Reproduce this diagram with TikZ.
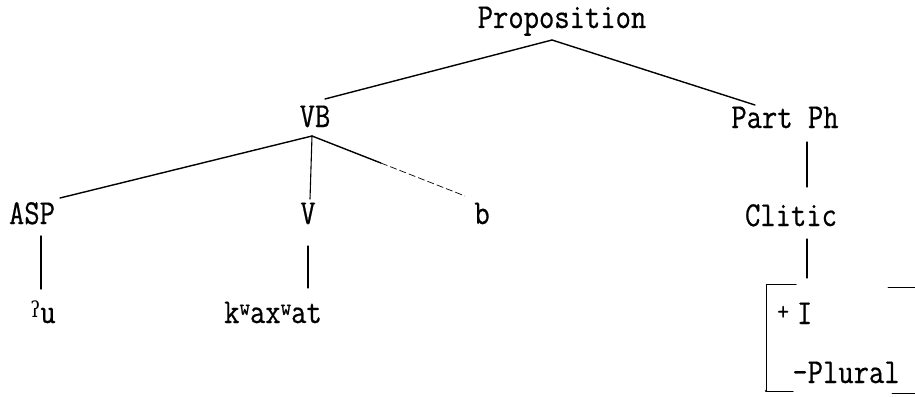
\documentclass[tikz,border=0pt]{standalone}
\usepackage{fontspec}
\newfontfamily\tw[FakeStretch=0.85,FakeBold=0.6]{Latin Modern Mono}
\newfontfamily\ipa[FakeStretch=0.85]{DejaVu Serif}
\usetikzlibrary{calc}
\begin{document}
\begin{tikzpicture}[x=1pt,y=-1pt,
  lab/.style={font=\tw\fontsize{35}{40}\selectfont, inner sep=0pt, anchor=base},
  edge/.style={line width=1.4pt, line cap=round},
  thinedge/.style={line width=1.1pt, line cap=round},
  brk/.style={line width=1pt, line cap=round}]
\useasboundingbox (0,0) rectangle (915,396);
% nodes
\node[lab] (prop) at (562,28) {Proposition};
\node[lab] (vb) at (315,127) {VB};
\node[lab] (pp) at (785,128) {Part Ph};
\node[lab] (asp) at (32,224) {ASP};
\node[lab] (v) at (308,224) {V};
\node[lab] (b) at (482,224) {b};
\node[lab] (clitic) at (791,226) {Clitic};
\node[lab] (gu) at (43,323) {\raisebox{6pt}{\ipa\fontsize{22}{22}\selectfont ʔ}u};
\node[lab] (kw) at (273,323) {k\raisebox{8pt}{\fontsize{24}{24}\selectfont w}ax\raisebox{8pt}{\fontsize{24}{24}\selectfont w}at};
\node[lab, anchor=base west] (pi) at (777,324) {\raisebox{4pt}{\fontsize{27}{27}\selectfont +}\hspace{8pt}I};
\node[lab] (plural) at (846,383) {-Plural};
% connector coordinates
\path (prop.base) ++(-10,12) coordinate (pj);
\path (vb.base) ++(10,-28) coordinate (vbt);
\path (pp.base) ++(-30,-23) coordinate (ppt);
\path (vb.base) ++(-3,9) coordinate (vbj);
\path (asp.base) ++(28,-26) coordinate (aspt);
\path (v.base) ++(2,-25) coordinate (vt);
\path (b.base) ++(-17,-28) coordinate (bt);
\path (asp.base) ++(9,12) coordinate (aspb);
\path (gu.base) ++(-2,-34) coordinate (gut);
\path (v.base) ++(0,22) coordinate (vb2);
\path (kw.base) ++(35,-35) coordinate (kwt);
\path (pp.base) ++(22,14) coordinate (ppb);
\path (clitic.base) ++(16,-39) coordinate (clt);
\path (clitic.base) ++(16,13) coordinate (clb);
\path (plural.base) ++(-39,-105) coordinate (brt);
\path (plural.base) ++(-80,-99) coordinate (bl1);
\path (plural.base) ++(-80,8) coordinate (bl2);
\path (plural.base) ++(-50,-99) coordinate (bl1e);
\path (plural.base) ++(-53,8) coordinate (bl2e);
\path (plural.base) ++(42,-96) coordinate (br1);
\path (plural.base) ++(69,-96) coordinate (br1e);
\path (plural.base) ++(46,10) coordinate (br2);
\path (plural.base) ++(69,10) coordinate (br2e);
% connectors
\draw[edge] (pj) -- (vbt);
\draw[edge] (pj) -- (ppt);
\draw[edge] (vbj) -- (aspt);
\draw[thinedge] (vbj) -- (vt);
\draw[edge] (vbj) -- ($(vbj)!0.45!(bt)$);
\draw[line width=0.7pt, dash pattern=on 7pt off 3pt] ($(vbj)!0.45!(bt)$) -- (bt);
\draw[edge] (aspb) -- (gut);
\draw[thinedge] (vb2) -- (kwt);
\draw[thinedge] (ppb) -- (clt);
\draw[thinedge] (clb) -- (brt);
% bracket
\draw[brk] (bl1e) -- (bl1) -- (bl2) -- (bl2e);
\fill (bl2) circle (1.2pt);
\draw[brk] (br1) -- (br1e);
\draw[brk] (br2) -- (br2e);
\end{tikzpicture}
\end{document}
